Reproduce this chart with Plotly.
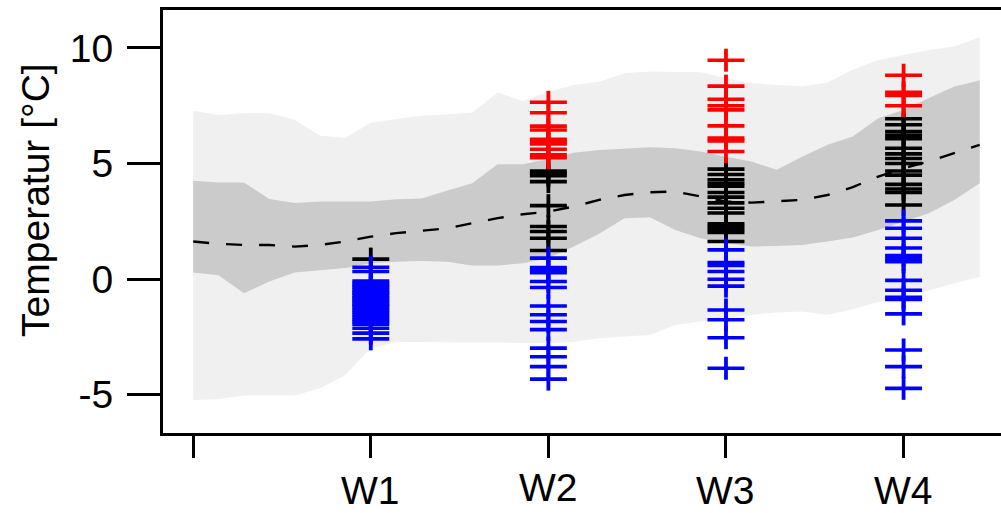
import plotly.graph_objects as go

# ---- data ----
days = list(range(32))
light_upper = [7.28, 7.10, 7.18, 7.18, 6.89, 6.20, 6.12, 6.77, 6.93, 7.07, 7.12, 7.20, 8.07, 7.71, 8.10, 8.40,
               8.54, 8.91, 8.98, 8.98, 8.95, 8.70, 8.47, 8.40, 8.33, 8.50, 9.06, 9.48, 9.70, 9.91, 10.06, 10.46]
dark_upper = [4.26, 4.18, 4.18, 3.47, 3.29, 3.36, 3.36, 3.36, 3.46, 3.49, 3.82, 4.15, 4.97, 4.97, 5.20, 5.47,
              5.59, 5.66, 5.71, 5.66, 5.52, 5.30, 5.09, 4.73, 5.30, 5.81, 6.17, 6.96, 7.32, 7.83, 8.33, 8.59]
median = [1.63, 1.53, 1.48, 1.48, 1.41, 1.48, 1.63, 1.84, 1.99, 2.09, 2.20, 2.42, 2.64, 2.81, 2.92, 3.14,
          3.43, 3.64, 3.76, 3.79, 3.57, 3.36, 3.31, 3.36, 3.43, 3.64, 3.98, 4.44, 4.80, 5.09, 5.45, 5.81]
dark_lower = [0.29, 0.17, -0.61, -0.10, 0.29, 0.37, 0.48, 0.69, 0.76, 0.79, 0.75, 0.59, 0.59, 0.69, 0.91, 1.41,
              1.96, 2.64, 2.68, 2.13, 1.77, 1.56, 1.41, 1.44, 1.48, 1.63, 1.80, 2.13, 2.49, 2.85, 3.43, 4.15]
light_lower = [-5.22, -5.18, -5.03, -5.03, -5.03, -4.71, -4.14, -2.98, -2.72, -2.72, -2.74, -2.74, -2.74, -2.77,
               -2.77, -2.70, -2.55, -2.48, -2.41, -1.98, -1.83, -1.69, -1.54, -1.44, -1.40, -1.54, -1.30, -0.97,
               -0.75, -0.49, -0.17, 0.11]

week_days = [0, 7, 14, 21, 28]
week_labels = ["", "W1", "W2", "W3", "W4"]

w1_black = [0.87]
w1_blue = [0.52, 0.33, -0.08, -0.18, -0.27, -0.35, -0.45, -0.55, -0.62, -0.72, -0.80, -0.90, -0.98, -1.08,
           -1.15, -1.25, -1.35, -1.45, -1.55, -1.65, -1.75, -1.85, -1.95, -2.12, -2.33, -2.58]
w1_red = []
w2_red = [7.65, 7.20, 6.62, 6.45, 6.05, 5.95, 5.85, 5.62, 5.38, 5.25]
w2_black = [4.68, 4.58, 4.48, 4.22, 3.18, 2.28, 2.06, 1.77, 1.24]
w2_blue = [0.91, 0.50, 0.40, 0.28, -0.10, -0.36, -1.16, -1.54, -1.83, -2.18, -2.98, -3.35, -3.78, -4.32]
w3_red = [9.47, 8.35, 7.78, 7.50, 7.32, 6.63, 6.10, 5.98, 5.52]
w3_black = [4.76, 4.53, 4.30, 4.15, 4.02, 3.75, 3.55, 3.30, 3.07, 2.86, 2.40, 2.28, 2.15, 2.02, 1.63]
w3_blue = [1.27, 0.72, 0.60, 0.33, 0.00, -0.30, -1.33, -1.75, -2.53, -3.85]
w4_red = [8.82, 8.08, 7.95, 7.50]
w4_black = [6.94, 6.68, 6.38, 6.22, 6.08, 5.66, 5.42, 5.22, 5.00, 4.68, 4.50, 4.10, 3.90, 3.75, 3.21]
w4_blue = [2.52, 2.20, 1.77, 1.35, 1.02, 0.88, 0.76, -0.05, -0.48, -0.78, -0.88, -1.50, -3.06, -3.78, -4.72]

FONT = "Liberation Sans, Arial, sans-serif"

fig = go.Figure()

# bands
fig.add_trace(go.Scatter(x=days, y=light_lower, mode="lines", line=dict(width=0), hoverinfo="skip", showlegend=False))
fig.add_trace(go.Scatter(x=days, y=light_upper, mode="lines", line=dict(width=0), fill="tonexty",
                         fillcolor="#f0f0f0", hoverinfo="skip", showlegend=False))
fig.add_trace(go.Scatter(x=days, y=dark_lower, mode="lines", line=dict(width=0), hoverinfo="skip", showlegend=False))
fig.add_trace(go.Scatter(x=days, y=dark_upper, mode="lines", line=dict(width=0), fill="tonexty",
                         fillcolor="#cbcbcb", hoverinfo="skip", showlegend=False))
fig.add_trace(go.Scatter(x=days, y=median, mode="lines", line=dict(color="black", width=2.4, dash="16px,17px"),
                         showlegend=False))


def column(vals_by_week, color):
    xs, ys = [], []
    for d, vals in zip([7, 14, 21, 28], vals_by_week):
        xs += [d] * len(vals)
        ys += vals
    fig.add_trace(go.Scatter(x=xs, y=ys, mode="markers", showlegend=False,
                             marker=dict(symbol="line-ew", size=26.4, color=color,
                                         line=dict(color=color, width=3.6))))
    fig.add_trace(go.Scatter(x=xs, y=ys, mode="markers", showlegend=False,
                             marker=dict(symbol="line-ns", size=16.4, color=color,
                                         line=dict(color=color, width=3.8))))


column([w1_black, w2_black, w3_black, w4_black], "black")
column([w1_blue, w2_blue, w3_blue, w4_blue], "blue")
column([w1_red, w2_red, w3_red, w4_red], "red")

# week labels
label_y = [None, -0.135, -0.128, -0.135, -0.135]
for d, t, yy in zip(week_days, week_labels, label_y):
    if t:
        fig.add_annotation(x=d, y=yy, xref="x", yref="paper", text=t, showarrow=False,
                           xanchor="center", yanchor="middle", font=dict(size=39, color="black", family=FONT))

fig.add_annotation(x=-0.1516, y=0.551, xref="paper", yref="paper", text="Temperatur [°C]", textangle=-90,
                   showarrow=False, xanchor="center", yanchor="middle",
                   font=dict(size=39, color="black", family=FONT))

fig.update_layout(
    width=1001, height=513,
    margin=dict(l=163, r=0, t=10, b=80),
    paper_bgcolor="white", plot_bgcolor="white",
    font=dict(family=FONT, size=39, color="black"),
    xaxis=dict(range=[-1.19, 31.84], tickvals=week_days, ticktext=[""] * 5,
               ticks="outside", ticklen=22, tickwidth=3, tickcolor="black",
               showline=True, linewidth=3, linecolor="black", mirror=True,
               showgrid=False, zeroline=False),
    yaxis=dict(range=[-6.65, 11.64], tickvals=[-5, 0, 5, 10], ticktext=["-5", "0", "5", "10"],
               ticks="outside", ticklen=33, tickwidth=3, tickcolor="black",
               showline=True, linewidth=3, linecolor="black",
               showgrid=False, zeroline=False, ticklabelstandoff=6,
               tickfont=dict(size=39, family=FONT)),
)

fig.write_html("out.html", config={"displayModeBar": False},
               post_script="document.body.style.margin='0';document.body.style.padding='0';")
